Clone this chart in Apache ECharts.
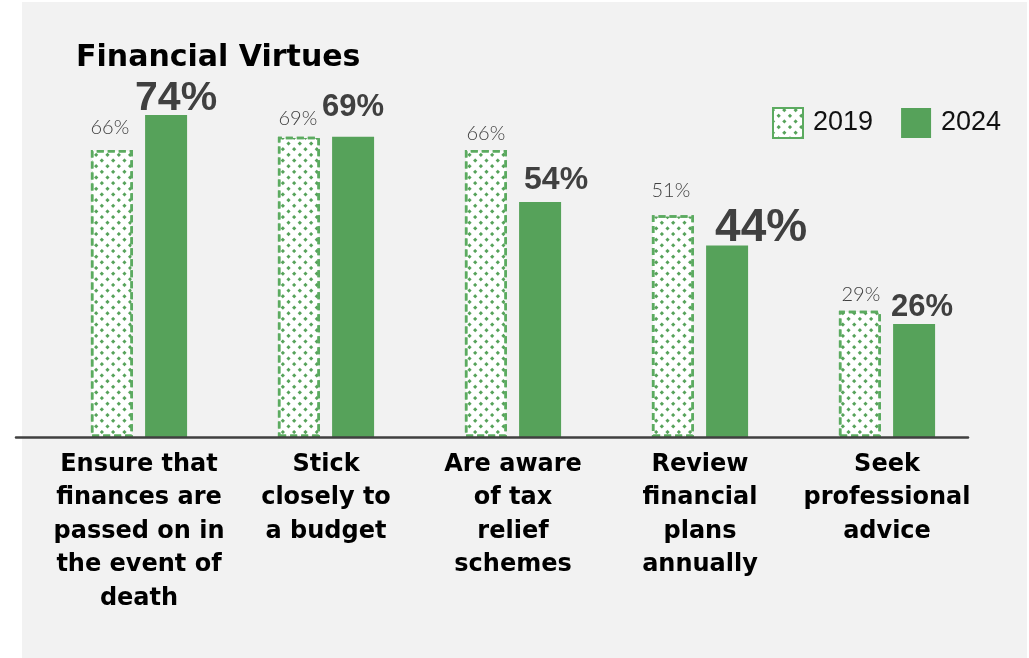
<!DOCTYPE html>
<html>
<head>
<meta charset="utf-8">
<script src="https://cdn.jsdelivr.net/npm/echarts@6/dist/echarts.min.js"></script>
<style>
  html, body { margin: 0; padding: 0; background: #ffffff; }
  #chart { width: 1029px; height: 658px; }
</style>
</head>
<body>
<div id="chart"></div>
<script>
// Survey answers: share of respondents (%)
const categories = [
  'Ensure that\nfinances are\npassed on in\nthe event of\ndeath',
  'Stick\nclosely to\na budget',
  'Are aware\nof tax\nrelief\nschemes',
  'Review\nfinancial\nplans\nannually',
  'Seek\nprofessional\nadvice'
];
const seriesNames = ['2019', '2024'];
const values2019 = [66, 69, 66, 51, 29];
const values2024 = [74, 69, 54, 44, 26];

// Label placement per bar: font size, horizontal shift, gap above the bar
const labelLayout2019 = [
  { size: 20, dx: -2, gap: 15 },
  { size: 20, dx: -1, gap: 11 },
  { size: 20, dx: 0, gap: 9 },
  { size: 20, dx: -2, gap: 18 },
  { size: 20, dx: 1, gap: 9 }
];
const labelLayout2024 = [
  { size: 41, dx: 10, gap: 2 },
  { size: 31, dx: 0, gap: 18 },
  { size: 32, dx: 16, gap: 10 },
  { size: 46, dx: 34, gap: 0 },
  { size: 31, dx: 8, gap: 5 }
];

const GREEN = '#56a25a';
const DASH_GREEN = '#5cab60';
const TEXT_DARK = '#404040';

// small green dots on a diagonal lattice
const dotted = {
  symbol: 'rect',
  symbolSize: 1,
  color: GREEN,
  dashArrayX: [2.5, 4.5],
  dashArrayY: [2.5, 4.5],
  rotation: Math.PI / 4
};

function withLabels(values, layout, weight, family) {
  return values.map((v, i) => ({
    value: v,
    label: {
      fontSize: layout[i].size,
      lineHeight: layout[i].size,
      offset: [layout[i].dx, 0],
      distance: layout[i].gap - Math.round(layout[i].size * 0.14),
      fontWeight: weight,
      fontFamily: family
    }
  }));
}

const chart = echarts.init(document.getElementById('chart'), null, { renderer: 'canvas' });

chart.setOption({
  backgroundColor: '#ffffff',
  animation: false,
  graphic: [{
    type: 'rect',
    z: -10,
    silent: true,
    shape: { x: 22, y: 2, width: 1005, height: 656 },
    style: { fill: '#f2f2f2' }
  }],
  title: {
    text: 'Financial Virtues',
    left: 76,
    top: 43,
    padding: 0,
    textStyle: {
      fontFamily: 'DejaVu Sans',
      fontWeight: 'bold',
      fontSize: 30,
      color: '#000000'
    }
  },
  legend: {
    data: seriesNames,
    left: 772,
    top: 107,
    padding: 0,
    icon: 'rect',
    itemWidth: 30,
    itemHeight: 30,
    itemGap: 28,
    textStyle: {
      fontFamily: 'Liberation Sans',
      fontSize: 27,
      color: '#111111',
      padding: [0, 0, 0, 5]
    }
  },
  grid: [
    { left: 45.5, right: 48.5, top: 2, bottom: 221 },
    { left: 16, right: 61, top: 2, bottom: 221 }
  ],
  xAxis: [
    {
      type: 'category',
      gridIndex: 0,
      data: categories,
      axisLine: { show: false },
      axisTick: { show: false },
      axisLabel: {
        interval: 0,
        margin: 11,
        fontFamily: 'DejaVu Sans',
        fontWeight: 'bold',
        fontSize: 24,
        lineHeight: 33.5,
        color: '#000000',
        align: 'center'
      }
    },
    {
      // baseline rule under the bars
      type: 'value',
      gridIndex: 1,
      min: 0,
      max: 1,
      z: 10,
      axisLine: { show: true, lineStyle: { color: TEXT_DARK, width: 2.5 } },
      axisTick: { show: false },
      axisLabel: { show: false },
      splitLine: { show: false }
    }
  ],
  yAxis: [
    { type: 'value', gridIndex: 0, min: 0, max: 100, show: false },
    { type: 'value', gridIndex: 1, min: 0, max: 1, show: false }
  ],
  series: [
    {
      name: seriesNames[0],
      type: 'bar',
      xAxisIndex: 0,
      yAxisIndex: 0,
      barWidth: 42,
      barGap: '29%',
      itemStyle: {
        color: '#ffffff',
        borderColor: DASH_GREEN,
        borderWidth: 2.5,
        borderType: [7, 4],
        decal: dotted
      },
      label: {
        show: true,
        position: 'top',
        color: TEXT_DARK,
        formatter: '{c}%'
      },
      data: withLabels(values2019, labelLayout2019, 300, 'Lato')
    },
    {
      name: seriesNames[1],
      type: 'bar',
      xAxisIndex: 0,
      yAxisIndex: 0,
      barWidth: 42,
      barGap: '29%',
      itemStyle: { color: GREEN },
      label: {
        show: true,
        position: 'top',
        color: TEXT_DARK,
        formatter: '{c}%'
      },
      data: withLabels(values2024, labelLayout2024, 'bold', 'Liberation Sans')
    }
  ]
});
</script>
</body>
</html>
